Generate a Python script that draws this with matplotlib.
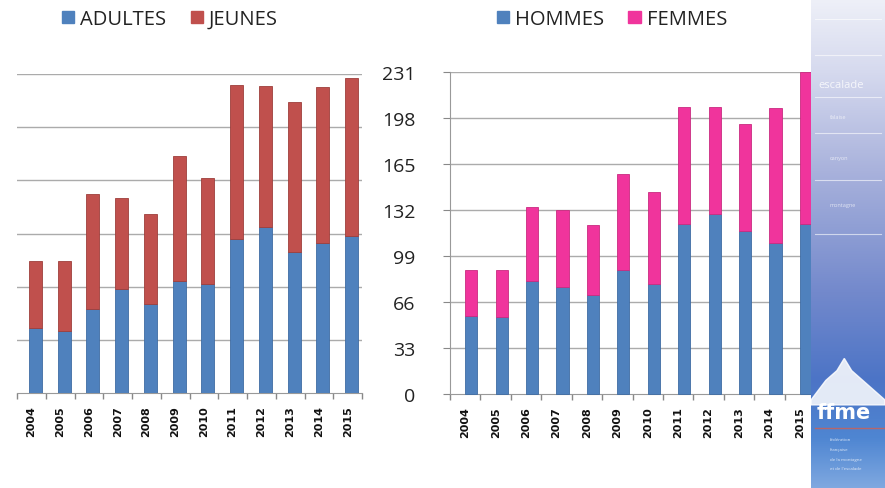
import numpy as np
import matplotlib.pyplot as plt
from matplotlib.patches import Patch, Polygon
from matplotlib.colors import LinearSegmentedColormap

years = ["2004", "2005", "2006", "2007", "2008", "2009", "2010", "2011", "2012", "2013", "2014", "2015"]
adultes = [49, 47, 63, 78, 67, 84, 82, 116, 125, 106, 113, 118]
jeunes = [50, 52, 87, 69, 68, 94, 80, 116, 106, 113, 117, 119]
hommes = [56, 55, 81, 77, 71, 89, 79, 122, 129, 117, 108, 122]
femmes = [33, 34, 53, 55, 50, 69, 66, 84, 77, 77, 97, 109]
right_ticks = [0, 33, 66, 99, 132, 165, 198, 231]
left_ticks = [0, 40, 80, 120, 160, 200, 240]

BLUE = "#4F81BD"
RED = "#C0504D"
PINK = "#F0349C"
GRID = "#ABABAB"
FONT = ["Open Sans", "DejaVu Sans"]
plt.rcParams["font.family"] = FONT

W, H = 885, 489
fig = plt.figure(figsize=(W / 100, H / 100), dpi=100)
fig.patch.set_facecolor("white")


def px_axes(x0, x1, ytop, ybot):
    return fig.add_axes([x0 / W, 1 - ybot / H, (x1 - x0) / W, (ybot - ytop) / H])


def style_common(ax, ticks, ymax):
    x = np.arange(len(years))
    ax.set_xlim(-0.5, len(years) - 0.5)
    ax.set_ylim(0, ymax)
    ax.set_yticks(ticks)
    for t in ticks[1:]:
        ax.axhline(t, color=GRID, lw=1.0, zorder=0)
    ax.set_xticks(x)
    ax.set_xticklabels(years, rotation=90, fontsize=8, fontweight="bold",
                       family=["DejaVu Sans"], color="#111111")
    ax.set_xticks(np.arange(len(years) + 1) - 0.5, minor=True)
    ax.tick_params(axis="x", which="major", length=0, pad=9)
    ax.tick_params(axis="x", which="minor", length=4, color="#888888", width=1)
    for s in ("top", "right"):
        ax.spines[s].set_visible(False)
    ax.spines["bottom"].set_color("#999999")
    ax.set_facecolor("none")
    return x


# ---- left chart: adultes / jeunes ----
axL = px_axes(17, 362, 75, 394)
x = style_common(axL, left_ticks, 240)
axL.spines["left"].set_visible(False)
axL.tick_params(axis="y", length=0, labelleft=False)
axL.bar(x + 0.14, adultes, width=0.45, color=BLUE, edgecolor="#3F6CA3", lw=0.6, zorder=3)
axL.bar(x + 0.14, jeunes, bottom=adultes, width=0.45, color=RED, edgecolor="#9E3E3B", lw=0.6, zorder=3)

# ---- right chart: hommes / femmes ----
axR = px_axes(450, 815, 73, 395)
x = style_common(axR, right_ticks, 231)
axR.spines["left"].set_color("#999999")
axR.tick_params(axis="y", length=5, color="#888888", labelsize=14, labelcolor="#222222", pad=20)
axR.bar(x + 0.2, hommes, width=0.40, color=BLUE, edgecolor="#3F6CA3", lw=0.6, zorder=3, clip_on=False)
axR.bar(x + 0.2, femmes, bottom=hommes, width=0.40, color=PINK, edgecolor="#C92B80", lw=0.6, zorder=3, clip_on=False)

# ---- legends ----
fig.legend(handles=[Patch(color=BLUE, label="ADULTES"), Patch(color=RED, label="JEUNES")],
           loc="center", bbox_to_anchor=(170 / W, 1 - 20 / H), ncol=2, frameon=False,
           fontsize=14.5, handlelength=0.6, handleheight=0.6, handletextpad=0.3, columnspacing=1.2,
           labelcolor="#222222")
fig.legend(handles=[Patch(color=BLUE, label="HOMMES"), Patch(color=PINK, label="FEMMES")],
           loc="center", bbox_to_anchor=(612 / W, 1 - 20 / H), ncol=2, frameon=False,
           fontsize=14.5, handlelength=0.6, handleheight=0.6, handletextpad=0.3, columnspacing=1.2,
           labelcolor="#222222")

# ---- decorative FFME banner on the right ----
axB = fig.add_axes([811 / W, 0, (W - 811) / W, 1])
cmap = LinearSegmentedColormap.from_list("ffme", [
    (0.0, "#EEF0F8"), (0.15, "#D5D9EE"), (0.35, "#A9B2DC"), (0.6, "#7389CC"),
    (0.78, "#4C74C6"), (0.9, "#4F86D2"), (1.0, "#7FA8E0")])
grad = np.linspace(0, 1, 256).reshape(-1, 1)
axB.imshow(grad, aspect="auto", cmap=cmap, extent=[0, 1, 1, 0])
axB.set_xlim(0, 1)
axB.set_ylim(1, 0)
axB.axis("off")
for yy in [0.04, 0.115, 0.2, 0.275, 0.37, 0.48]:
    axB.plot([0.05, 0.95], [yy, yy], color="white", lw=0.8, alpha=0.6)
axB.text(0.1, 0.175, "escalade", color="white", fontsize=8, alpha=0.8, va="center")
axB.text(0.25, 0.24, "falaise", color="white", fontsize=4, alpha=0.7, va="center")
axB.text(0.25, 0.325, "canyon", color="white", fontsize=4, alpha=0.7, va="center")
axB.text(0.25, 0.42, "montagne", color="white", fontsize=4, alpha=0.7, va="center")
axB.add_patch(Polygon([[0.0, 0.82], [0.2, 0.78], [0.35, 0.76], [0.45, 0.735],
                       [0.55, 0.76], [0.7, 0.78], [1.0, 0.82], [1.0, 0.83], [0.0, 0.83]],
                      closed=True, color="white", alpha=0.85))
axB.text(0.08, 0.845, "ffme", color="white", fontsize=15, fontweight="bold", va="center",
         family=["DejaVu Sans"])
axB.plot([0.05, 1.0], [0.878, 0.878], color="#B5666B", lw=1.0)
for i, t in enumerate(["fédération", "française", "de la montagne", "et de l'escalade"]):
    axB.text(0.25, 0.9 + i * 0.02, t, color="white", fontsize=3.2, alpha=0.8, va="center")

fig.savefig("out.png", dpi=100)
